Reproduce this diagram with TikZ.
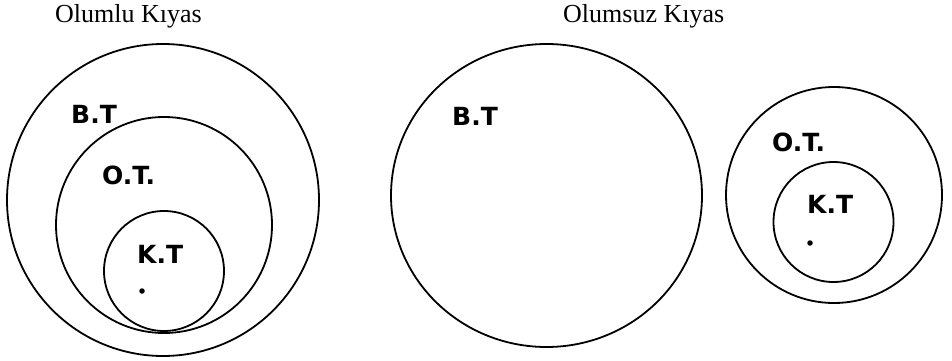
\documentclass[tikz,border=0pt]{standalone}
\usepackage{fontspec}
\setmainfont{Liberation Serif}
\newfontfamily\lblfont{DejaVu Sans}
\usetikzlibrary{shapes.geometric}
\begin{document}
\begin{tikzpicture}[x=1pt,y=-1pt,
  ring/.style={draw=black,line width=1.8pt,circle,inner sep=0pt},
  oval/.style={draw=black,line width=1.8pt,ellipse,inner sep=0pt},
  title/.style={inner sep=0pt,anchor=base west,font=\fontsize{26}{30}\selectfont},
  lbl/.style={inner sep=0pt,anchor=base west,font=\lblfont\bfseries\fontsize{25}{29}\selectfont},
  pt/.style={fill=black,circle,inner sep=0pt,minimum size=5.5pt}]
\useasboundingbox (0,0) rectangle (952,361);
% titles
\node[title] (t1) at (55,23) {Olumlu Kıyas};
\node[title] (t2) at (563,23) {Olumsuz Kıyas};
% left group
\node[ring,minimum size=312pt] (bt1) at (163,200) {};
\node[ring,minimum size=216pt] (ot1) at (164,225) {};
\node[ring,minimum size=120pt] (kt1) at (164,271) {};
\node[lbl] (lbt1) at (71,123) {B.T};
\node[lbl] (lot1) at (102,184) {O.T.};
\node[lbl] (lkt1) at (137,263) {K.T};
\node[pt] (d1) at (142,291) {};
% middle
\node[oval,minimum width=311pt,minimum height=303pt] (bt2) at (546.5,195.5) {};
\node[lbl] (lbt2) at (452,125) {B.T};
% right group
\node[ring,minimum size=216pt] (ot2) at (834,195) {};
\node[ring,minimum size=120pt] (kt2) at (833.5,222) {};
\node[lbl] (lot2) at (772,151) {O.T.};
\node[lbl] (lkt2) at (807,213) {K.T};
\node[pt] (d2) at (810,243) {};
\end{tikzpicture}
\end{document}
